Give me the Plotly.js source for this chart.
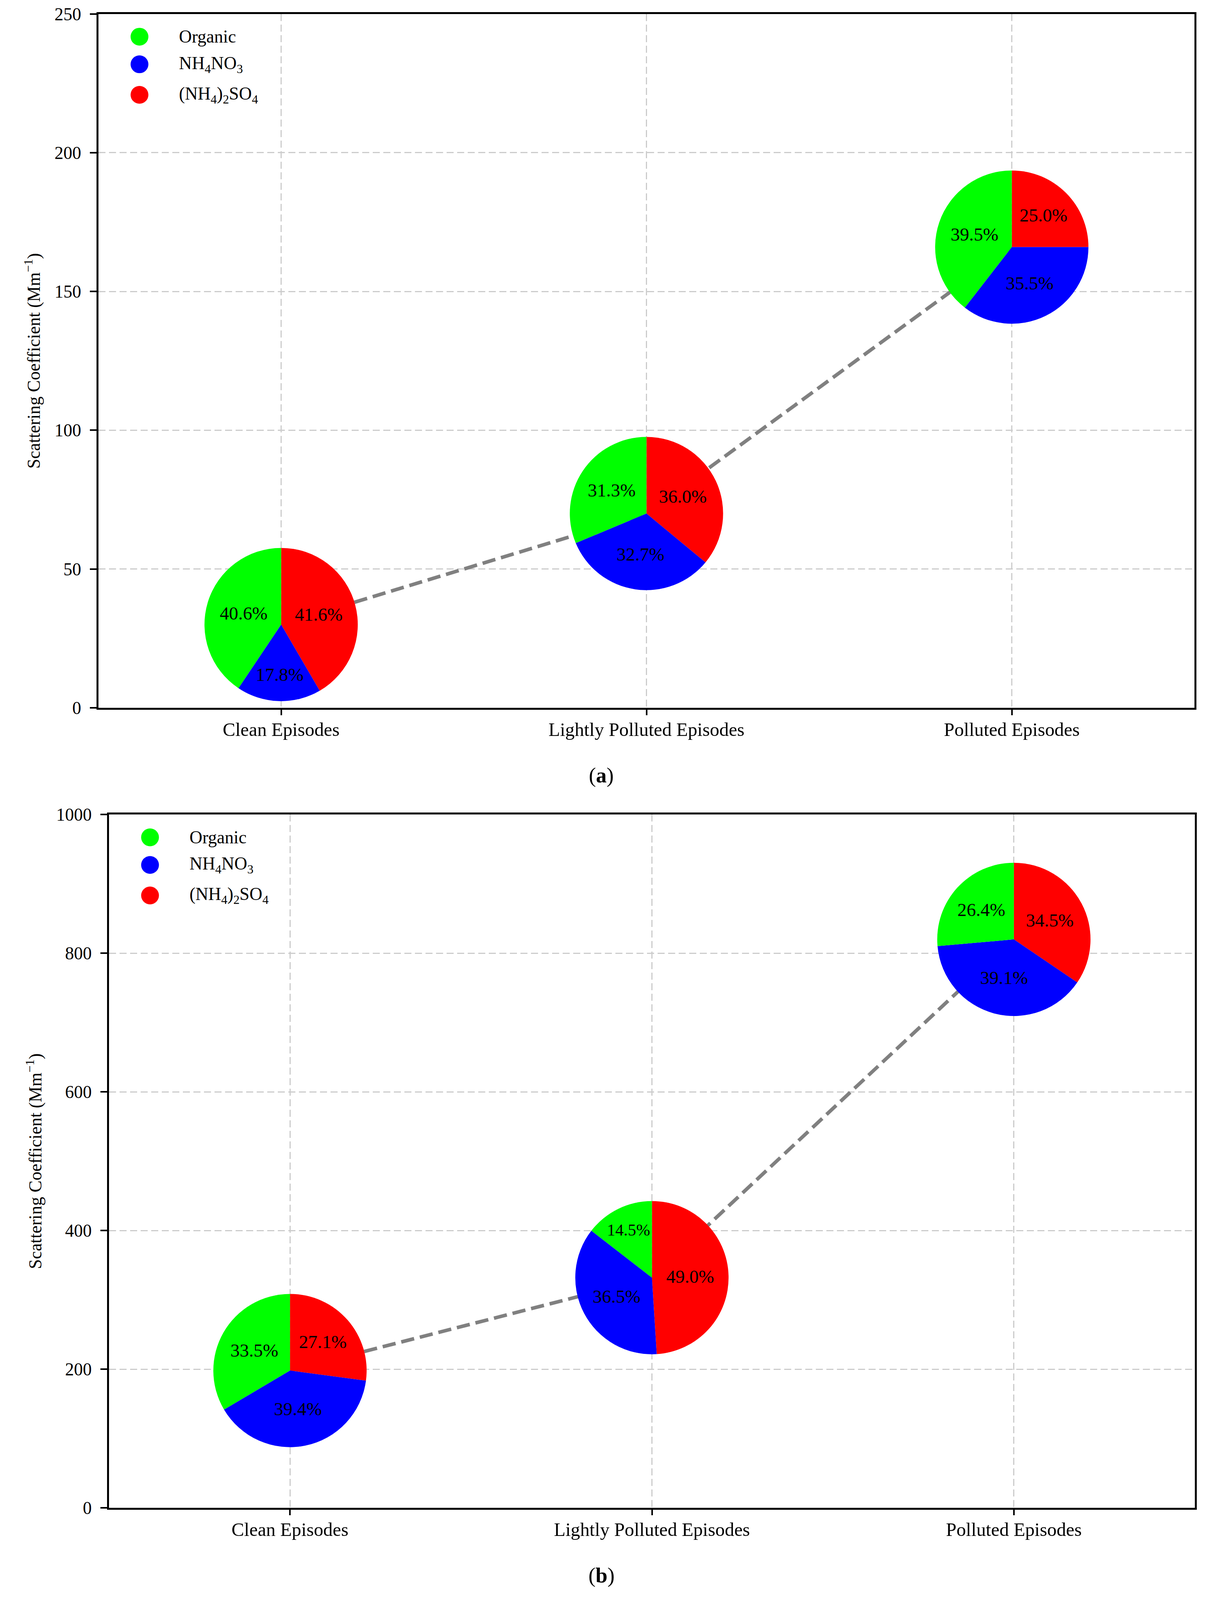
<!DOCTYPE html>
<html>
<head>
<meta charset="utf-8">
<script src="https://cdn.plot.ly/plotly-3.0.1.min.js"></script>
<style>
  html, body { margin: 0; padding: 0; background: #ffffff; overflow: hidden; }
</style>
</head>
<body>
<div id="chart"></div>
<script>
// Categories and components
const episodes = ['Clean Episodes', 'Lightly Polluted Episodes', 'Polluted Episodes'];
const components = ['Organic', 'NH4NO3', '(NH4)2SO4'];
const componentLabels = ['Organic', 'NH<sub>4</sub>NO<sub>3</sub>', '(NH<sub>4</sub>)<sub>2</sub>SO<sub>4</sub>'];
const componentColors = ['#00ff00', '#0000ff', '#ff0000'];

// Panel (a): scattering coefficient (Mm-1) and shares (%) per episode
const scatteringA = [30, 70, 166];
const sharesA = [
    [40.6, 17.8, 41.6],
    [31.3, 32.7, 36.0],
    [39.5, 35.5, 25.0]
];

// Panel (b)
const scatteringB = [198, 332, 820];
const sharesB = [
    [33.5, 39.4, 27.1],
    [14.5, 36.5, 49.0],
    [26.4, 39.1, 34.5]
];

// layout is measured on a 3084x4928 sheet; the window may be smaller
// (it comes up 4096 tall), so everything is kept as fractions of that sheet
const REF_W = 3084, REF_H = 4928;
const W = window.innerWidth || REF_W;
const H = window.innerHeight || REF_H;
const sx = W / REF_W, sy = H / REF_H;
const fs = Math.sqrt(sx * sy);   // font scale
const R = 236 * sy;              // pie radius in px
const FONT = 'Liberation Serif, Times New Roman, serif';

document.getElementById('chart').style.width = W + 'px';
document.getElementById('chart').style.height = H + 'px';

// plot area of each panel, in sheet pixels
const panels = [
    {xa: 'xaxis', ya: 'yaxis', xr: 'x', yr: 'y', left: 252, right: 3057, top: 43, bottom: 2180,
     ymax: 250, dtick: 50, values: scatteringA, shares: sharesA, tag: 'a', tagY: 2387},
    {xa: 'xaxis2', ya: 'yaxis2', xr: 'x2', yr: 'y2', left: 279, right: 3058, top: 2509, bottom: 4644,
     ymax: 1000, dtick: 200, values: scatteringB, shares: sharesB, tag: 'b', tagY: 4851}
];

// data -> paper fraction, same linear scale as the axes below
function toPaper(p, i, v) {
    const fx = (p.left + (i + 0.5) / episodes.length * (p.right - p.left)) / REF_W;
    const fy = 1 - (p.bottom - v / p.ymax * (p.bottom - p.top)) / REF_H;
    return [fx, fy];
}

// matplotlib-style pie: first slice starts at 12 o'clock and runs counterclockwise.
// plotly's clockwise mode starts the first slice at 12, so feed it reversed.
const rev = a => a.slice().reverse();

const data = [];
const layout = {
    width: W, height: H,
    margin: {l: 0, r: 0, t: 0, b: 0},
    paper_bgcolor: '#ffffff',
    plot_bgcolor: '#ffffff',
    showlegend: false,
    font: {family: FONT, color: '#000000'},
    shapes: [],
    annotations: []
};

panels.forEach(p => {
    // dashed line through the pie centres
    data.push({
        x: episodes, y: p.values,
        xaxis: p.xr, yaxis: p.yr,
        type: 'scatter', mode: 'lines',
        line: {color: '#808080', width: 10 * fs, dash: Math.round(37 * fs) + 'px,' + Math.round(16 * fs) + 'px'},
        hoverinfo: 'skip', showlegend: false
    });

    // one pie per episode, centred on its point
    p.values.forEach((v, i) => {
        const [fx, fy] = toPaper(p, i, v);
        data.push({
            type: 'pie',
            labels: rev(components),
            values: rev(p.shares[i]),
            sort: false,
            direction: 'clockwise',
            rotation: 0,
            marker: {colors: rev(componentColors), line: {width: 0}},
            textinfo: 'none',
            texttemplate: '%{value:.1f}%',
            textposition: 'inside',
            insidetextorientation: 'horizontal',
            insidetextfont: {family: FONT, size: 52 * fs, color: '#000000'},
            domain: {x: [fx - R / W, fx + R / W], y: [fy - R / H, fy + R / H]},
            hoverinfo: 'skip',
            showlegend: false
        });
    });

    layout[p.xa] = {
        domain: [p.left / REF_W, p.right / REF_W],
        anchor: p.yr,
        type: 'category',
        range: [-0.5, episodes.length - 0.5],
        showline: true, linecolor: '#000000', linewidth: 5, mirror: true,
        ticks: 'outside', ticklen: 17 * sy, tickwidth: 4, tickcolor: '#000000',
        ticklabelstandoff: Math.round(-6 * sy),
        tickfont: {family: FONT, size: 53 * fs, color: '#000000'},
        showgrid: true, gridcolor: '#cccccc', gridwidth: 3, griddash: '18px,9px',
        zeroline: false, fixedrange: true
    };
    layout[p.ya] = {
        domain: [1 - p.bottom / REF_H, 1 - p.top / REF_H],
        anchor: p.xr,
        range: [0, p.ymax],
        dtick: p.dtick,
        showline: true, linecolor: '#000000', linewidth: 5, mirror: true,
        ticks: 'outside', ticklen: 17 * sx, tickwidth: 4, tickcolor: '#000000',
        ticklabelstandoff: Math.round(13 * sx),
        tickfont: {family: FONT, size: 50 * fs, color: '#000000'},
        showgrid: true, gridcolor: '#cccccc', gridwidth: 3, griddash: '18px,9px',
        zeroline: false, fixedrange: true,
        title: {text: 'Scattering Coefficient (Mm<sup>\u22121</sup>)',
                font: {family: FONT, size: 50 * fs, color: '#000000'}, standoff: Math.round(24 * sx)}
    };

    // legend: coloured circles + labels in the upper-left corner
    const rowOffsets = [70, 155, 249];
    const mr = 25 * fs;
    componentLabels.forEach((lab, k) => {
        const mx = (p.left + 105) / REF_W, my = 1 - (p.top + rowOffsets[k]) / REF_H;
        layout.shapes.push({
            type: 'circle', xref: 'paper', yref: 'paper',
            x0: mx - mr / W, x1: mx + mr / W,
            y0: my - mr / H, y1: my + mr / H,
            fillcolor: componentColors[k], line: {width: 0}
        });
        layout.annotations.push({
            xref: 'paper', yref: 'paper',
            x: (p.left + 204) / REF_W, y: my,
            xanchor: 'left', yanchor: 'middle',
            text: lab, showarrow: false,
            font: {family: FONT, size: 50 * fs, color: '#000000'}
        });
    });

    // panel tag (a)/(b)
    layout.annotations.push({
        xref: 'paper', yref: 'paper',
        x: 1539 / REF_W, y: 1 - p.tagY / REF_H,
        xanchor: 'center', yanchor: 'middle',
        text: '(<b>' + p.tag + '</b>)', showarrow: false,
        font: {family: FONT, size: 60 * fs, color: '#000000'}
    });
});

Plotly.newPlot('chart', data, layout, {staticPlot: true, displayModeBar: false});
</script>
</body>
</html>
